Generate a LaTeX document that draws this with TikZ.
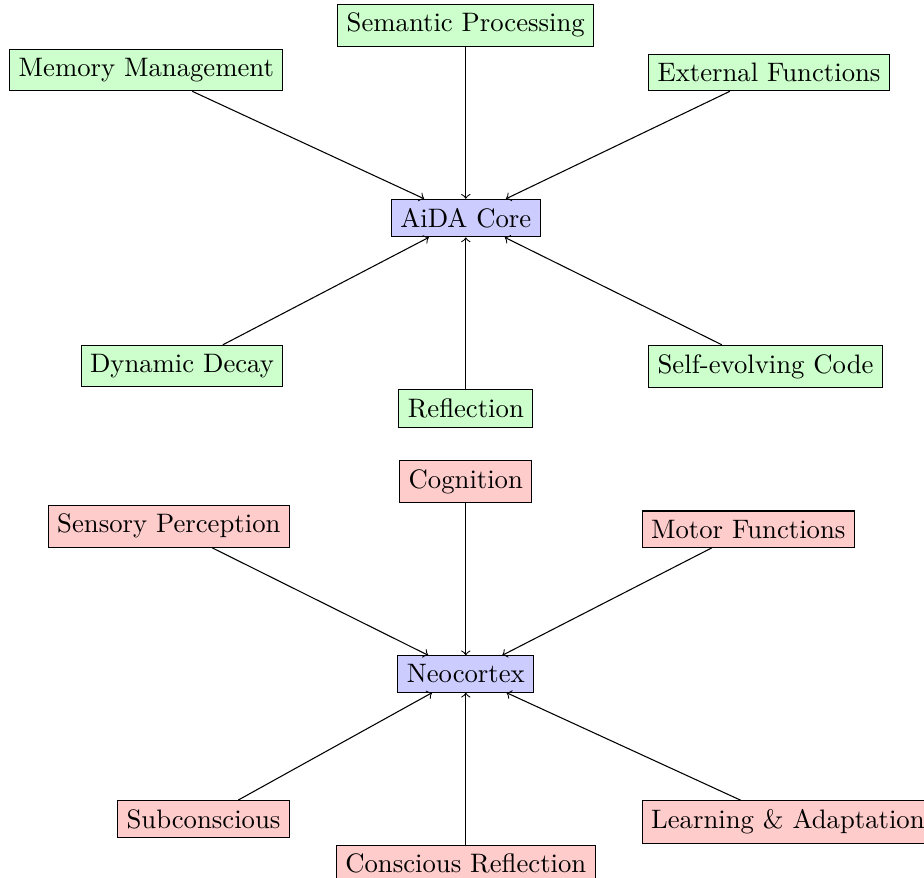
\documentclass[tikz,border=0pt]{standalone}
\usepackage{tikz}
\usetikzlibrary{positioning}

\begin{document}
\begin{tikzpicture}[node distance=2cm,
    hub/.style={draw, fill=blue!20},
    aida/.style={draw, fill=green!20},
    brain/.style={draw, fill=red!20}]
  \useasboundingbox (-6.13, -8.68) rectangle (6.03, 2.87);
  % AiDA side
  \node[hub] (core) at (0, 0) {AiDA Core};
  \node[aida, above=of core] (sem) {Semantic Processing};
  \node[aida, above left=of core] (mem) {Memory Management};
  \node[aida, above right=of core] (ext) {External Functions};
  \node[aida, below left=of core] (decay) {Dynamic Decay};
  \node[aida, below=of core] (refl) {Reflection};
  \node[aida, below right=of core] (code) {Self-evolving Code};
  \foreach \n in {sem, mem, ext, decay, refl, code}
    \draw[->] (\n) -- (core);
  % brain side
  \node[hub] (neo) at (0, -6) {Neocortex};
  \node[brain, above=of neo] (cog) {Cognition};
  \node[brain, above left=of neo] (sens) {Sensory Perception};
  \node[brain, above right=of neo] (motor) {Motor Functions};
  \node[brain, below left=of neo] (sub) {Subconscious};
  \node[brain, below=of neo] (consc) {Conscious Reflection};
  \node[brain, below right=of neo] (learn) {Learning \& Adaptation};
  \foreach \n in {cog, sens, motor, sub, consc, learn}
    \draw[->] (\n) -- (neo);
\end{tikzpicture}
\end{document}
